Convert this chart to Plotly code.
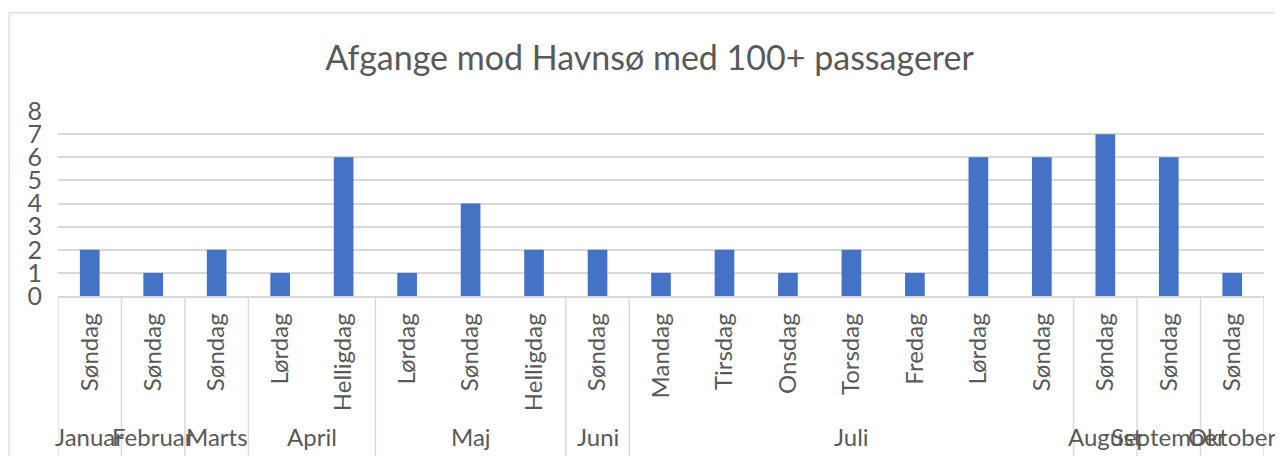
import plotly.graph_objects as go

months = ["Januar", "Februar", "Marts", "April", "April", "Maj", "Maj", "Maj", "Juni",
          "Juli", "Juli", "Juli", "Juli", "Juli", "Juli", "Juli",
          "August", "September", "Oktober"]
days = ["Søndag", "Søndag", "Søndag", "Lørdag", "Helligdag", "Lørdag", "Søndag", "Helligdag", "Søndag",
        "Mandag", "Tirsdag", "Onsdag", "Torsdag", "Fredag", "Lørdag", "Søndag",
        "Søndag", "Søndag", "Søndag"]
values = [2, 1, 2, 1, 6, 1, 4, 2, 2, 1, 2, 1, 2, 1, 6, 6, 7, 6, 1]
title = "Afgange mod Havnsø med 100+ passagerer"

FONT = "Lato"
TXT = "#595959"
GRID = "#d9d9d9"

n = len(values)
xs = list(range(n))

fig = go.Figure(go.Bar(x=xs, y=values, marker_color="#4472C4", width=0.31,
                       marker_line_width=0, hoverinfo="y"))

# month groups
groups = []
start = 0
for i in range(1, n + 1):
    if i == n or months[i] != months[start]:
        groups.append((months[start], start, i - 1))
        start = i

shapes = []
annotations = []
bottom = -0.95
for name, a, b in groups:
    annotations.append(dict(x=(a + b) / 2, y=-0.757, xref="x", yref="paper", text=name,
                            showarrow=False, font=dict(family=FONT, size=24, color=TXT),
                            xanchor="center", yanchor="middle"))
    shapes.append(dict(type="line", xref="x", yref="paper", x0=a - 0.5, x1=a - 0.5,
                       y0=0, y1=bottom, line=dict(color=GRID, width=1.5)))
shapes.append(dict(type="line", xref="x", yref="paper", x0=n - 0.5, x1=n - 0.5,
                   y0=0, y1=bottom, line=dict(color=GRID, width=1.5)))
# chart border
shapes.append(dict(type="rect", xref="paper", yref="paper", x0=-0.0405, x1=1.0152,
                   y0=-1.0, y1=1.53, line=dict(color=GRID, width=1.2), layer="below"))

fig.update_layout(
    width=1283, height=456,
    margin=dict(l=50, r=27, t=103, b=168, autoexpand=False),
    paper_bgcolor="white", plot_bgcolor="white",
    title=dict(text=title, x=0.5, xanchor="center", y=0.89, yanchor="middle",
               font=dict(family=FONT, size=34, color=TXT)),
    showlegend=False,
    shapes=shapes,
    annotations=annotations,
)
fig.update_xaxes(range=[-0.5, n - 0.5], tickmode="array", tickvals=xs, ticktext=days,
                 tickangle=-90, tickfont=dict(family=FONT, size=24, color=TXT),
                 showgrid=False, showline=True, linecolor=GRID, linewidth=1.5,
                 ticks="", ticklabelstandoff=6, fixedrange=True, automargin=False)
fig.update_yaxes(range=[0, 8], dtick=1, tickfont=dict(family=FONT, size=25, color=TXT),
                 showgrid=True, gridcolor=GRID, gridwidth=1.5, zeroline=False,
                 showline=False, ticks="", ticklabelstandoff=15, fixedrange=True,
                 automargin=False)

fig.write_html("out.html")
